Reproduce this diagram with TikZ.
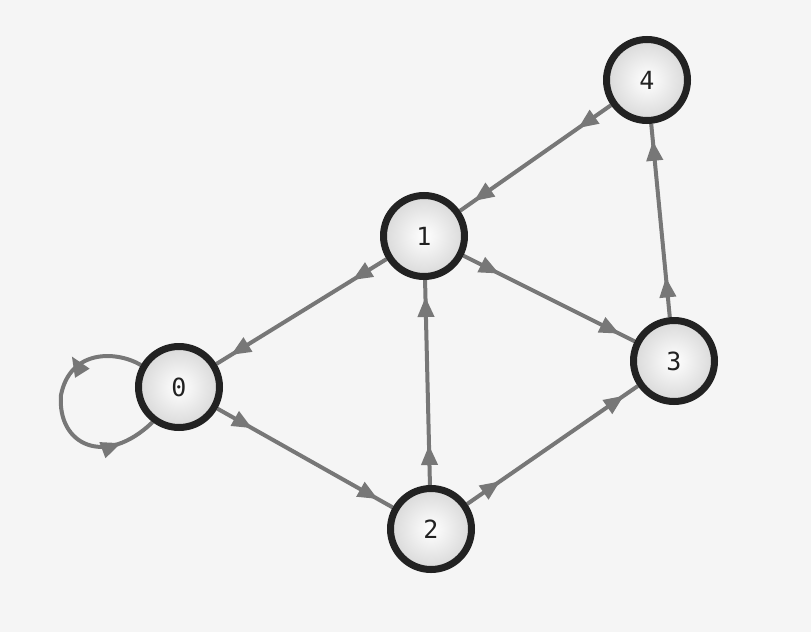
\documentclass[tikz,border=0pt]{standalone}
\usepackage{fontspec}
\setmonofont{DejaVu Sans Mono}
\usetikzlibrary{arrows.meta, decorations.markings, shadows, backgrounds}
\definecolor{bggray}{HTML}{F5F5F5}
\definecolor{edgegray}{HTML}{777777}
\definecolor{ringdark}{HTML}{222222}

\begin{document}
\begin{tikzpicture}[
  x=1pt, y=-1pt,
  flowtip/.tip={Triangle[length=20pt, width=16pt]},
  vertex/.style={circle, draw=ringdark, line width=7pt, minimum size=81pt,
    inner sep=0pt, shading=radial, inner color=white, outer color=gray!30,
    font=\ttfamily\fontsize{25}{25}\selectfont, text=ringdark,
    drop shadow={shadow xshift=2pt, shadow yshift=-3pt, opacity=0.16}},
  link/.style={draw=edgegray, line width=4pt, postaction={decorate},
    decoration={markings,
      mark=at position 40pt with {\arrow{flowtip}},
      mark=at position -17pt with {\arrow{flowtip}}}},
  selflink/.style={draw=edgegray, line width=4pt, postaction={decorate},
    decoration={markings,
      mark=at position 66pt with {\pgftransformshift{\pgfpoint{0pt}{-11pt}}%
        \pgftransformrotate{-95}\arrow{flowtip}},
      mark=at position -38pt with {\arrow{flowtip}}}},
]
  % -- Vertices --
  \node[vertex] (v0) at (179,387) {0};
  \node[vertex] (v1) at (424,236) {1};
  \node[vertex] (v2) at (431,529) {2};
  \node[vertex] (v3) at (674,361) {3};
  \node[vertex] (v4) at (647,80) {4};

  \begin{scope}[on background layer]
    % -- Canvas --
    \useasboundingbox[fill=bggray] (0,0) rectangle (811,632);

    % -- Directed links --
    \draw[link] (v4) -- (v1);
    \draw[link] (v1) -- (v0);
    \draw[link] (v0) -- (v2);
    \draw[link] (v1) -- (v3);
    \draw[link] (v2) -- (v1);
    \draw[link] (v2) -- (v3);
    \draw[link] (v3) -- (v4);

    % -- Self loop on 0 --
    \draw[selflink] (v0.150) .. controls (115,350) and (70,350) .. (61,395)
      .. controls (57,445) and (105,468) .. (v0.-127);
  \end{scope}
\end{tikzpicture}
\end{document}
